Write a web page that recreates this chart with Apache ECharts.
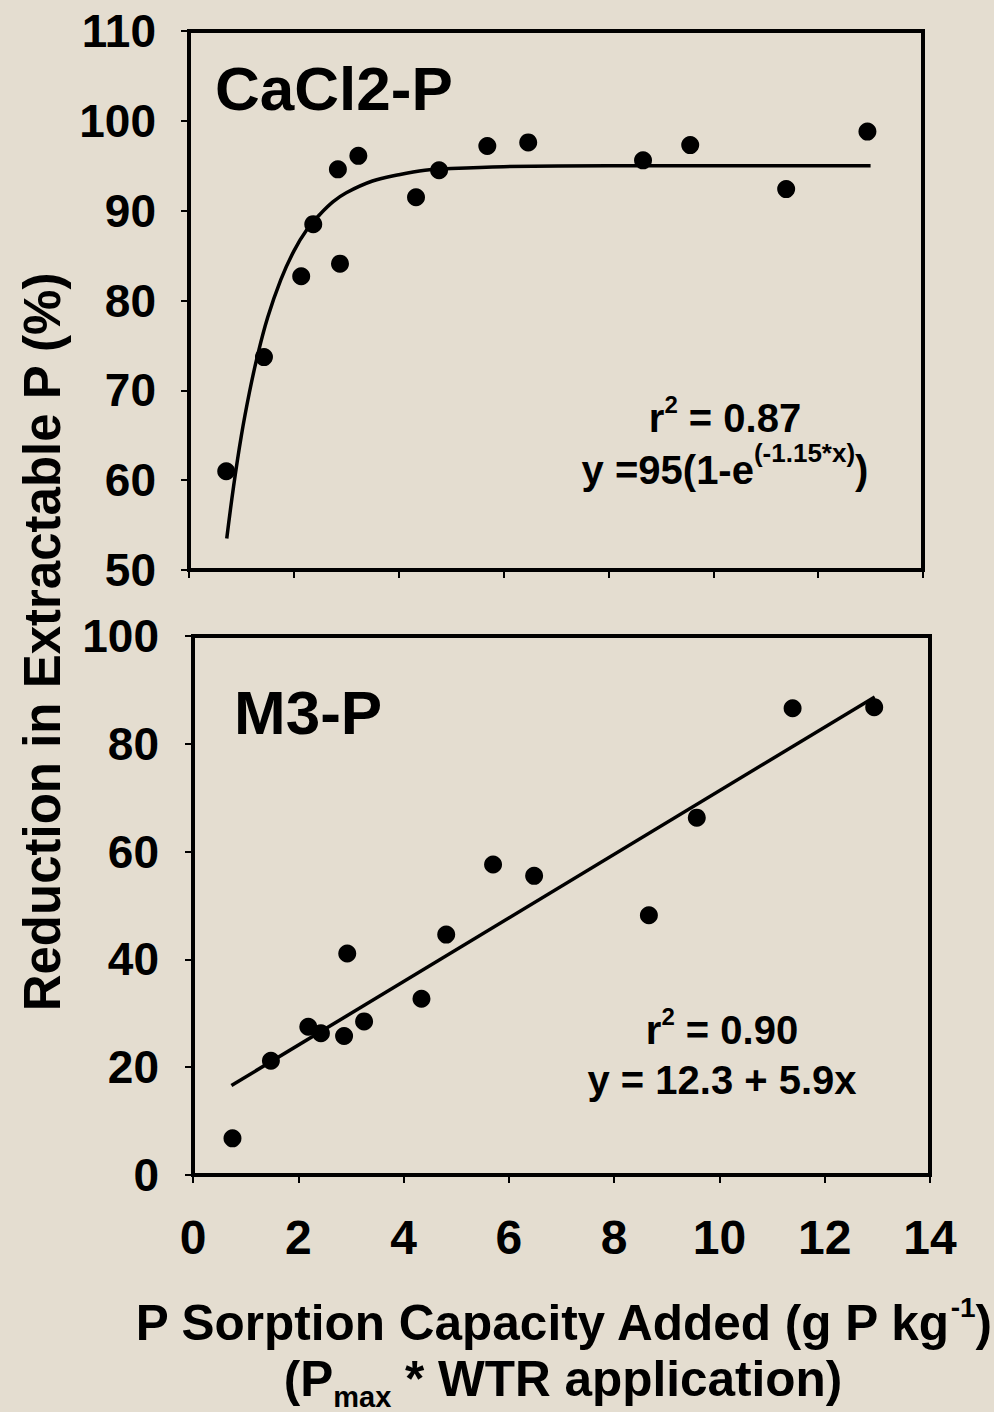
<!DOCTYPE html>
<html>
<head>
<meta charset="utf-8">
<script src="https://cdn.jsdelivr.net/npm/echarts@6/dist/echarts.min.js"></script>
<style>
  html, body { margin: 0; padding: 0; background: #e4ddd0; }
  #chart { width: 994px; height: 1412px; }
</style>
</head>
<body>
<div id="chart"></div>
<script>
// CaCl2-P panel (top)
var caX = [0.71, 1.43, 2.14, 2.37, 2.84, 2.88, 3.23, 4.33, 4.77, 5.69, 6.47, 8.66, 9.56, 11.39, 12.94];
var caY = [61.0, 73.7, 82.7, 88.5, 94.6, 84.1, 96.1, 91.5, 94.5, 97.2, 97.6, 95.6, 97.3, 92.4, 98.8];
// fitted curve
var caFitX = [0.72, 0.85, 1.0, 1.15, 1.3, 1.5, 1.75, 2.0, 2.25, 2.5, 2.75, 3.0, 3.5, 4.0, 4.5, 5.0, 6.0, 8.0, 10.0, 13.0];
var caFitY = [53.5, 59.3, 65.0, 69.7, 73.7, 78.1, 82.3, 85.5, 87.9, 89.6, 91.0, 92.0, 93.3, 94.0, 94.5, 94.7, 94.9, 95.0, 95.0, 95.0];

// M3-P panel (bottom)
var m3X = [0.75, 1.48, 2.19, 2.43, 2.87, 2.93, 3.25, 4.34, 4.81, 5.70, 6.48, 8.66, 9.57, 11.39, 12.94];
var m3Y = [6.8, 21.2, 27.5, 26.3, 25.8, 41.1, 28.5, 32.7, 44.6, 57.6, 55.5, 48.2, 66.3, 86.6, 86.8];
var m3FitX = [0.73, 12.95];
var m3FitY = [16.6, 88.7];

var xTicks = [0, 14, 2];       // min, max, interval
var caTicks = [50, 110, 10];
var m3Ticks = [0, 100, 20];

var FONT = "'Liberation Sans', Arial, Helvetica, sans-serif";

function pairs(xs, ys) {
  return xs.map(function (x, i) { return [x, ys[i]]; });
}

function txt(size, extra) {
  var s = { fontSize: size, fontWeight: 'bold', fontFamily: FONT, fill: '#000', lineHeight: size * 1.2 };
  return Object.assign(s, extra || {});
}

var chart = echarts.init(document.getElementById('chart'), null, { renderer: 'svg' });

var axisLine = { show: true, lineStyle: { color: '#000', width: 4 } };
var tick = { show: true, inside: false, length: 8, lineStyle: { color: '#000', width: 2 } };
var dot = { color: '#000', opacity: 1 };

var option = {
  backgroundColor: '#e4ddd0',
  animation: false,
  grid: [
    { left: 189, top: 31, width: 734, height: 539, show: true, borderColor: '#000', borderWidth: 4, backgroundColor: 'transparent' },
    { left: 193, top: 636, width: 737, height: 539, show: true, borderColor: '#000', borderWidth: 4, backgroundColor: 'transparent' }
  ],
  xAxis: [
    { gridIndex: 0, type: 'value', min: xTicks[0], max: xTicks[1], interval: xTicks[2],
      axisLine: axisLine, axisTick: tick, axisLabel: { show: false }, splitLine: { show: false } },
    { gridIndex: 1, type: 'value', min: xTicks[0], max: xTicks[1], interval: xTicks[2],
      axisLine: axisLine, axisTick: tick, splitLine: { show: false },
      axisLabel: { margin: 38, color: '#000', fontSize: 48, fontWeight: 'bold', fontFamily: FONT } }
  ],
  yAxis: [
    { gridIndex: 0, type: 'value', min: caTicks[0], max: caTicks[1], interval: caTicks[2],
      axisLine: axisLine, axisTick: tick, splitLine: { show: false },
      axisLabel: { margin: 33, color: '#000', fontSize: 46, fontWeight: 'bold', fontFamily: FONT } },
    { gridIndex: 1, type: 'value', min: m3Ticks[0], max: m3Ticks[1], interval: m3Ticks[2],
      axisLine: axisLine, axisTick: tick, splitLine: { show: false },
      axisLabel: { margin: 34, color: '#000', fontSize: 46, fontWeight: 'bold', fontFamily: FONT } }
  ],
  series: [
    { type: 'line', xAxisIndex: 0, yAxisIndex: 0, data: pairs(caFitX, caFitY), smooth: 0.4,
      showSymbol: false, lineStyle: { color: '#000', width: 3.5 }, z: 2 },
    { type: 'scatter', xAxisIndex: 0, yAxisIndex: 0, data: pairs(caX, caY), symbol: 'circle',
      symbolSize: 18, itemStyle: dot, z: 3 },
    { type: 'line', xAxisIndex: 1, yAxisIndex: 1, data: pairs(m3FitX, m3FitY),
      showSymbol: false, lineStyle: { color: '#000', width: 3.5 }, z: 2 },
    { type: 'scatter', xAxisIndex: 1, yAxisIndex: 1, data: pairs(m3X, m3Y), symbol: 'circle',
      symbolSize: 18, itemStyle: dot, z: 3 }
  ],
  graphic: [
    // panel labels
    { type: 'text', x: 215, y: 88, style: { text: 'CaCl2-P', font: 'bold 62px ' + FONT, fill: '#000', verticalAlign: 'middle' } },
    { type: 'text', x: 234, y: 712, style: { text: 'M3-P', font: 'bold 62px ' + FONT, fill: '#000', verticalAlign: 'middle' } },
    // fit statistics, top
    { type: 'text', x: 725, y: 418, style: {
        text: '{m|r}{sup|2}{m| = 0.87}', align: 'center', verticalAlign: 'middle',
        rich: { m: txt(40), sup: txt(24, { padding: [0, 0, 28, 0] }) } } },
    { type: 'text', x: 725, y: 470, style: {
        text: '{m|y =95(1-e}{sup|(-1.15*x)}{m|)}', align: 'center', verticalAlign: 'middle',
        rich: { m: txt(40), sup: txt(26, { padding: [0, 0, 34, 0] }) } } },
    // fit statistics, bottom
    { type: 'text', x: 722, y: 1030, style: {
        text: '{m|r}{sup|2}{m| = 0.90}', align: 'center', verticalAlign: 'middle',
        rich: { m: txt(40), sup: txt(24, { padding: [0, 0, 28, 0] }) } } },
    { type: 'text', x: 722, y: 1080, style: {
        text: '{m|y = 12.3 + 5.9x}', align: 'center', verticalAlign: 'middle',
        rich: { m: txt(40) } } },
    // y-axis title
    { type: 'text', x: 42, y: 642, rotation: Math.PI / 2, style: {
        text: 'Reduction in Extractable P (%)', align: 'center', verticalAlign: 'middle',
        font: 'bold 51px ' + FONT, fill: '#000' } },
    // x-axis title, two lines
    { type: 'text', x: 563, y: 1322, style: {
        text: '{m|P Sorption Capacity Added (g P kg}{sup|-1}{m|)}', align: 'center', verticalAlign: 'middle',
        rich: { m: txt(49.5), sup: txt(28, { padding: [0, 0, 30, 0] }) } } },
    { type: 'text', x: 563, y: 1378, style: {
        text: '{m|(P}{sub|max}{m| * WTR application)}', align: 'center', verticalAlign: 'middle',
        rich: { m: txt(49.5), sub: txt(29, { padding: [38, 0, 0, 0] }) } } }
  ]
};

chart.setOption(option);
</script>
</body>
</html>
